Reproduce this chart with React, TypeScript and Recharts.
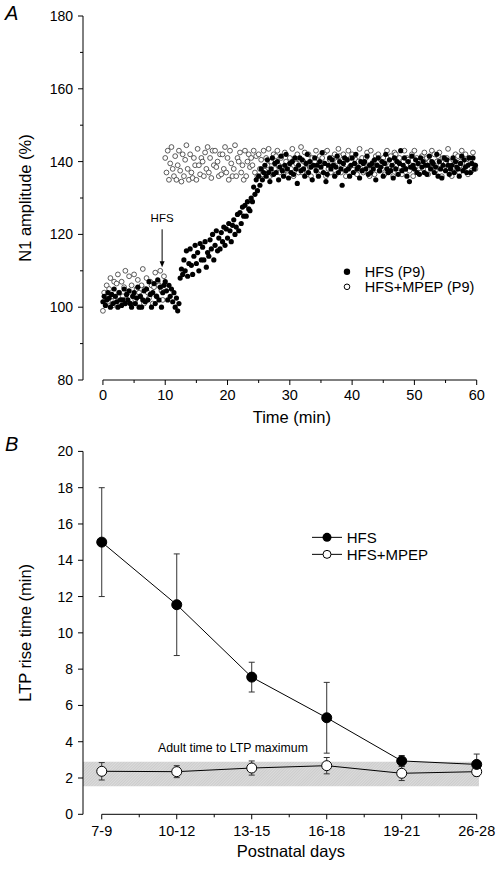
import {
  ComposedChart,
  ErrorBar,
  Legend,
  Line,
  ReferenceArea,
  ReferenceDot,
  ReferenceLine,
  Scatter,
  ScatterChart,
  XAxis,
  YAxis,
} from "recharts";

const FONT = "Arial, 'Liberation Sans', Helvetica, sans-serif";

// Panel A: N1 amplitude (%) per sweep, one sweep every 12 s (5 per minute), P9 slices
const SWEEP_MIN = 0.2;

// prettier-ignore
const hfsP9 = [
  101.5, 103, 100.5, 102, 104,   102.5, 100, 103.5, 101, 105,   103, 101.5, 100, 104, 102,
  100.5, 102, 105, 101, 103.5,   102, 104.5, 101, 100, 103,     104, 101, 102.5, 105.5, 100,
  103, 100, 102, 104.5, 101.5,   105, 102, 107, 103.5, 100,     104, 106.5, 101, 103, 107.5,
  102, 105.5, 100, 104, 106,     107, 104.5, 102, 106, 103,     105, 101.5, 104, 100, 102.5,
  99, 101, 108, 110.5, 109,      113, 110, 115.5, 108.5, 112,   116, 111.5, 109, 114, 117,
  112, 115, 110, 117.5, 113,     116.5, 113, 118, 111, 115,     114, 118.5, 116, 120, 113,
  117, 121, 115.5, 119, 116,     120.5, 118, 122, 117, 121.5,   119, 123, 121, 118, 122.5,
  124, 120, 122, 125.5, 121,     126, 123, 127.5, 125, 128,     125, 129, 127, 126.5, 130,
  129, 133, 131, 135, 132,       136, 133.5, 138, 135, 137,     139, 136, 140.5, 137, 134.5,
  138, 141, 136.5, 139.5, 137,   140, 135, 138.5, 141.5, 137.5, 136, 139, 142, 138, 135.5,
  139.5, 137, 140, 136.5, 141,   138, 134, 139, 141, 137.5,     140.5, 138, 136, 139.5, 142,
  137, 140, 138.5, 135, 139,     141, 137.5, 139, 136, 140,     138.5, 142.5, 137, 139.5, 134.5,
  136.5, 139, 141, 138, 140.5,   139, 136, 138.5, 141.5, 137,   140, 138, 133.5, 139.5, 141,
  137.5, 140.5, 138, 136, 139,   141, 137, 139.5, 142, 138,     138.5, 135.5, 140, 137.5, 139.5,
  140, 138, 141.5, 136.5, 139,   137, 139.5, 138, 140.5, 135,   139, 141, 137.5, 138.5, 140,
  136, 139.5, 142, 138, 137,     140.5, 137.5, 139, 135.5, 141, 138, 140, 136.5, 139.5, 143,
  137.5, 139, 141, 138, 136,     140, 134.5, 138.5, 141.5, 139, 138, 140.5, 137, 139.5, 136.5,
  141, 138.5, 140, 137, 139,     136.5, 139, 141.5, 138, 140,   139.5, 137, 138.5, 142, 136,
  140, 138, 135.5, 139, 141,     137.5, 140.5, 139, 136.5, 138, 139, 141, 137, 140, 138.5,
  138, 136, 139.5, 141.5, 137.5, 140.5, 138.5, 137, 139, 141,   137, 139.5, 141, 138, 139,
];

// prettier-ignore
const mpepP9 = [
  99, 104, 102, 106, 101.5,      105, 108, 103, 100.5, 107,     102, 106.5, 109, 104, 101,
  107, 103, 105.5, 110, 102,     104, 108.5, 101, 106, 103,     109, 102, 105, 107.5, 104,
  103, 106, 110.5, 101, 105,     108, 104, 102.5, 107, 106,     101, 105.5, 109.5, 103, 107,
  106, 110, 104.5, 102, 108.5,   141, 137, 143, 135, 139.5,     144, 138, 136, 141.5, 135,
  139, 143, 137.5, 134.5, 142,   136, 140.5, 144.5, 138, 135,   142, 137, 135.5, 141, 139,
  135, 143.5, 139, 136.5, 141,   140, 136, 142.5, 138, 144,     137, 141, 135.5, 143, 139,
  143, 138.5, 140, 136, 142,     136.5, 142, 138, 144, 137,     141, 135, 143, 139.5, 136,
  138, 144.5, 136, 141, 140,     142.5, 137, 139, 135, 143,     136, 140, 142, 138.5, 141,
  139, 143, 137, 141.5, 136,     142, 138, 140.5, 136.5, 143,   137.5, 141, 139, 143.5, 136,
  140, 136.5, 142, 138, 141.5,   143, 139, 137, 141, 138.5,     136.5, 142.5, 140, 137.5, 139,
  141, 138, 143.5, 136, 140,     139.5, 142, 137, 140.5, 144,   137, 140, 142.5, 138, 136.5,
  142, 138.5, 136, 141, 139.5,   140, 143, 138, 136.5, 141.5,   137.5, 141, 139.5, 142.5, 136,
  143, 138, 140.5, 137, 141,     139, 142, 136.5, 140, 143.5,   141.5, 137, 139, 142, 138,
  136, 140.5, 143, 138.5, 141,   142, 139, 137, 140.5, 136.5,   140, 143.5, 138, 141, 137,
  137.5, 141, 142.5, 139, 136,   143, 138, 140, 136.5, 141.5,   139, 142, 137.5, 140.5, 138,
  141, 136.5, 139.5, 143, 137,   138, 141.5, 140, 136, 142.5,   142, 139, 137, 141, 138.5,
  136.5, 140, 143, 138, 141,     140.5, 137.5, 139, 142, 136,   143, 138.5, 141, 137, 140,
  137, 141.5, 138, 142.5, 139.5, 141, 136.5, 140, 138.5, 143,   138, 142, 137.5, 140, 141.5,
  142.5, 139, 136, 141, 138,     139.5, 141, 143.5, 137, 140,   136, 140.5, 138.5, 142, 139,
  141.5, 137, 140, 143, 138,     138.5, 142, 139.5, 136.5, 141, 140, 137.5, 142.5, 139, 138,
];

const hfsArrow = { t: 9.5, from: 121.4, to: 111 };

// Panel B: LTP rise time (min) by postnatal age
const ageGroups = ["7-9", "10-12", "13-15", "16-18", "19-21", "26-28"];
const hfsRise = [15.0, 11.55, 7.56, 5.32, 2.94, 2.75];
const hfsRiseSem = [3.0, 2.8, 0.82, 1.95, 0.3, 0.57];
const mpepRise = [2.37, 2.35, 2.55, 2.68, 2.26, 2.35];
const mpepRiseSem = [0.48, 0.33, 0.39, 0.45, 0.4, 0.25];
const adultRange = [1.55, 2.9];

const hfsPoints = hfsP9.map((v, i) => ({ t: i * SWEEP_MIN, v }));
const mpepPoints = mpepP9.map((v, i) => ({ t: i * SWEEP_MIN, v }));

const riseData = ageGroups.map((g, i) => ({
  pos: i,
  group: g,
  hfs: hfsRise[i],
  hfsErr: hfsRiseSem[i],
  mpep: mpepRise[i],
  mpepErr: mpepRiseSem[i],
}));

const range = (a: number, b: number, step: number) => {
  const out: number[] = [];
  for (let v = a; v <= b + 1e-9; v += step) out.push(Math.round(v * 100) / 100);
  return out;
};

const TICK_SIZE = 5;
const TICK_MARGIN_Y = 5;
const TITLE_SIZE = 16.5;

function makeYTick(isMajor: (v: number) => boolean, fontSize: number) {
  return (props: any) => {
    const { x, y, payload } = props;
    const v = payload.value;
    const major = isMajor(v);
    const ax = x + TICK_SIZE + TICK_MARGIN_Y;
    return (
      <g>
        <line x1={ax - (major ? 5 : 3)} x2={ax} y1={y} y2={y} stroke="#000" strokeWidth={1} />
        {major && (
          <text x={x} y={y} dy="0.36em" textAnchor="end" fontSize={fontSize} fontFamily={FONT} fill="#000">
            {v}
          </text>
        )}
      </g>
    );
  };
}

function makeXTick(isMajor: (v: number) => boolean, label: (v: number) => string, margin: number) {
  return (props: any) => {
    const { x, y, payload } = props;
    const v = payload.value;
    const major = isMajor(v);
    const ay = y - TICK_SIZE - margin;
    return (
      <g>
        <line x1={x} x2={x} y1={ay} y2={ay + (major ? 5 : 3)} stroke="#000" strokeWidth={1} />
        {major && (
          <text x={x} y={y} dy="0.71em" textAnchor="middle" fontSize={14.5} fontFamily={FONT} fill="#000">
            {label(v)}
          </text>
        )}
      </g>
    );
  };
}

const xTitle = (text: string, dx: number) => ({
  content: (p: any) => (
    <text
      x={p.viewBox.x + p.viewBox.width / 2 + dx}
      y={p.viewBox.y + 43}
      textAnchor="middle"
      fontSize={TITLE_SIZE}
      fontFamily={FONT}
      fill="#000"
    >
      {text}
    </text>
  ),
});

const yTitle = (text: string) => ({
  value: text,
  angle: -90,
  position: "insideLeft" as const,
  offset: 2,
  style: { textAnchor: "middle", fontSize: TITLE_SIZE, fontFamily: FONT, fill: "#000" },
});

const FilledDot = (p: any) => <circle cx={p.cx} cy={p.cy} r={2.6} fill="#000" />;
const OpenDot = (p: any) => (
  <circle cx={p.cx} cy={p.cy} r={2.4} fill="#fff" stroke="#333" strokeWidth={0.8} />
);

const ArrowShape = (p: any) => (
  <g>
    <line x1={p.x1} y1={p.y1} x2={p.x2} y2={p.y2 - 4} stroke="#000" strokeWidth={1} />
    <path d={`M${p.x2 - 2.5},${p.y2 - 6} L${p.x2 + 2.5},${p.y2 - 6} L${p.x2},${p.y2} Z`} fill="#000" />
  </g>
);

function LegendA() {
  const row = { display: "flex", alignItems: "center", height: 15.6 };
  return (
    <div style={{ fontFamily: FONT, fontSize: 14.5, color: "#000", whiteSpace: "nowrap" }}>
      <div style={row}>
        <svg width={14} height={15.6}>
          <circle cx={7} cy={7.8} r={3.2} fill="#000" />
        </svg>
        <span style={{ marginLeft: 11 }}>HFS (P9)</span>
      </div>
      <div style={row}>
        <svg width={14} height={15.6}>
          <circle cx={7} cy={7.8} r={2.8} fill="#fff" stroke="#000" strokeWidth={1} />
        </svg>
        <span style={{ marginLeft: 11 }}>HFS+MPEP (P9)</span>
      </div>
    </div>
  );
}

function LegendB() {
  const row = { display: "flex", alignItems: "center", height: 16.7 };
  return (
    <div style={{ fontFamily: FONT, fontSize: 15, color: "#000", whiteSpace: "nowrap" }}>
      <div style={row}>
        <svg width={30} height={16.7}>
          <line x1={0} x2={30} y1={8.35} y2={8.35} stroke="#000" />
          <circle cx={15} cy={8.35} r={4.5} fill="#000" />
        </svg>
        <span style={{ marginLeft: 5 }}>HFS</span>
      </div>
      <div style={row}>
        <svg width={30} height={16.7}>
          <line x1={0} x2={30} y1={8.35} y2={8.35} stroke="#000" />
          <circle cx={15} cy={8.35} r={4} fill="#fff" stroke="#000" />
        </svg>
        <span style={{ marginLeft: 5 }}>HFS+MPEP</span>
      </div>
    </div>
  );
}

const panelTitle = (top: number): React.CSSProperties => ({
  position: "absolute",
  left: 5,
  top,
  fontFamily: FONT,
  fontStyle: "italic",
  fontSize: 20,
  lineHeight: "20px",
});

export default function App() {
  return (
    <div style={{ position: "absolute", left: 0, top: 0, width: 502, height: 871, background: "#fff" }}>
      <div style={panelTitle(3)}>A</div>
      <div style={panelTitle(434)}>B</div>

      <div style={{ position: "absolute", left: 0, top: 0 }}>
        <ScatterChart width={502} height={440} margin={{ top: 16, right: 25.3, bottom: 20, left: 23 }}>
          <XAxis
            type="number"
            dataKey="t"
            domain={[-3.2, 60]}
            ticks={range(0, 60, 5)}
            axisLine={false}
            tickLine={false}
            tickSize={TICK_SIZE}
            tickMargin={5}
            height={40}
            tick={makeXTick((v) => v % 10 === 0, (v) => String(v), 5)}
            label={xTitle("Time (min)", 12)}
          />
          <YAxis
            type="number"
            dataKey="v"
            domain={[80, 180]}
            ticks={range(80, 180, 10)}
            width={60}
            axisLine={{ stroke: "#000", strokeWidth: 1 }}
            tickLine={false}
            tickSize={TICK_SIZE}
            tickMargin={TICK_MARGIN_Y}
            tick={makeYTick((v) => v % 20 === 0, 14)}
            label={yTitle("N1 amplitude (%)")}
          />
          <ReferenceLine
            segment={[
              { x: 0, y: 80 },
              { x: 60, y: 80 },
            ]}
            stroke="#000"
            strokeWidth={1}
          />
          <ReferenceLine
            segment={[
              { x: hfsArrow.t, y: hfsArrow.from },
              { x: hfsArrow.t, y: hfsArrow.to },
            ]}
            shape={ArrowShape}
          />
          <ReferenceDot
            x={hfsArrow.t}
            y={124.5}
            r={0}
            stroke="none"
            label={{ value: "HFS", position: "center", fontSize: 11.5, fontFamily: FONT, fill: "#000" }}
          />
          <Scatter data={mpepPoints} shape={OpenDot} isAnimationActive={false} />
          <Scatter data={hfsPoints} shape={FilledDot} isAnimationActive={false} />
          <Legend
            layout="vertical"
            align="center"
            verticalAlign="middle"
            content={() => <LegendA />}
            wrapperStyle={{ left: 339.7, top: 263.9, width: 160, height: 32 }}
          />
        </ScatterChart>
      </div>

      <div style={{ position: "absolute", left: 0, top: 430 }}>
        <ComposedChart
          width={502}
          height={441}
          data={riseData}
          margin={{ top: 21.4, right: 25.3, bottom: 11.7, left: 23 }}
        >
          <defs>
            <pattern id="adultHatch" width="2" height="2" patternUnits="userSpaceOnUse" patternTransform="rotate(45)">
              <rect width="2" height="2" fill="#dcdcdc" />
              <line x1="0" y1="0" x2="0" y2="2" stroke="#b4b4b4" strokeWidth="0.8" />
            </pattern>
          </defs>
          <XAxis
            type="number"
            dataKey="pos"
            domain={[-0.25, 5]}
            ticks={range(0, 5, 0.5)}
            axisLine={false}
            tickLine={false}
            tickSize={TICK_SIZE}
            tickMargin={6}
            height={45}
            tick={makeXTick((v) => Number.isInteger(v), (v) => ageGroups[v] ?? "", 6)}
            label={xTitle("Postnatal days", 11)}
          />
          <YAxis
            type="number"
            domain={[0, 20]}
            ticks={range(0, 20, 1)}
            width={60}
            axisLine={{ stroke: "#000", strokeWidth: 1 }}
            tickLine={false}
            tickSize={TICK_SIZE}
            tickMargin={TICK_MARGIN_Y}
            tick={makeYTick((v) => v % 2 === 0, 14)}
            label={yTitle("LTP rise time (min)")}
          />
          <ReferenceArea
            x1={-0.25}
            x2={5.03}
            y1={adultRange[0]}
            y2={adultRange[1]}
            ifOverflow="visible"
            fill="url(#adultHatch)"
            fillOpacity={1}
            stroke="none"
          />
          <ReferenceDot
            x={1.75}
            y={3.67}
            r={0}
            stroke="none"
            label={{ value: "Adult time to LTP maximum", position: "center", fontSize: 12.3, fontFamily: FONT, fill: "#000" }}
          />
          <ReferenceLine
            segment={[
              { x: 0, y: 0 },
              { x: 5, y: 0 },
            ]}
            stroke="#000"
            strokeWidth={1}
          />
          <Line
            dataKey="mpep"
            stroke="#000"
            strokeWidth={1}
            dot={{ r: 5, fill: "#fff", stroke: "#000", strokeWidth: 1 }}
            activeDot={false}
            isAnimationActive={false}
          >
            <ErrorBar dataKey="mpepErr" width={3} stroke="#333" strokeWidth={1} direction="y" />
          </Line>
          <Line
            dataKey="hfs"
            stroke="#000"
            strokeWidth={1}
            dot={{ r: 5, fill: "#000", stroke: "#000", strokeWidth: 1 }}
            activeDot={false}
            isAnimationActive={false}
          >
            <ErrorBar dataKey="hfsErr" width={3} stroke="#333" strokeWidth={1} direction="y" />
          </Line>
          <Legend
            layout="vertical"
            align="center"
            verticalAlign="middle"
            content={() => <LegendB />}
            wrapperStyle={{ left: 311.7, top: 99, width: 180, height: 34 }}
          />
        </ComposedChart>
      </div>
    </div>
  );
}
